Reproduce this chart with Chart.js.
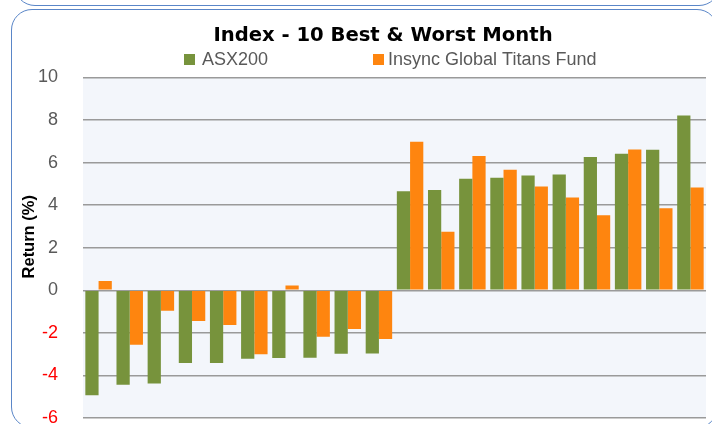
<!DOCTYPE html>
<html>
<head>
<meta charset="utf-8">
<script src="https://cdn.jsdelivr.net/npm/chart.js@4"></script>
<style>
html,body{margin:0;padding:0;background:#fff;overflow:hidden;width:712px;height:424px;}
#wrap{position:relative;width:712px;height:424px;overflow:hidden;}
.frame{position:absolute;border:1.5px solid #5a86c8;border-radius:21px;box-sizing:border-box;}
#f1{left:14px;top:-40px;width:706px;height:46px;}
#f2{left:11px;top:9px;width:707px;height:419px;}
canvas{position:absolute;left:0;top:0;}
</style>
</head>
<body>
<div id="wrap">
  <div class="frame" id="f1"></div>
  <div class="frame" id="f2"></div>
  <canvas id="c" width="712" height="424"></canvas>
</div>
<script>
// Categories: 10 worst and 10 best ASX200 months (axis labels are cut off in the source)
const categories = ['Worst 1','Worst 2','Worst 3','Worst 4','Worst 5','Worst 6','Worst 7','Worst 8','Worst 9','Worst 10',
                    'Best 10','Best 9','Best 8','Best 7','Best 6','Best 5','Best 4','Best 3','Best 2','Best 1'];
const asx200 = [-4.93, -4.44, -4.38, -3.42, -3.42, -3.22, -3.18, -3.17, -2.98, -2.97,
                 4.66,  4.72,  5.24,  5.29,  5.40,  5.44,  6.26,  6.42,  6.61,  8.22];
const insync = [ 0.44, -2.56, -0.96, -1.44, -1.63, -3.01,  0.23, -2.18, -1.82, -2.29,
                 6.98,  2.75,  6.31,  5.67,  4.88,  4.36,  3.53,  6.62,  3.86,  4.83];
const seriesNames = ['ASX200', 'Insync Global Titans Fund'];
const yTicks = [-6, -4, -2, 0, 2, 4, 6, 8, 10];
const chartTitle = 'Index - 10 Best & Worst Month';
const axisTitle = 'Return (%)';

const colors = ['#77933C', '#FE850F'];

const plotBg = {
  id: 'plotBg',
  beforeDraw(chart) {
    const {ctx, chartArea: a} = chart;
    ctx.save();
    ctx.fillStyle = '#f3f6fb';
    ctx.fillRect(a.left, a.top, a.right - a.left, a.bottom - a.top);
    ctx.restore();
  }
};

const shiftTitles = {
  id: 'shiftTitles',
  afterLayout(chart) {
    if (chart.titleBlock) { chart.titleBlock.left += 25; chart.titleBlock.right += 25; }
    const y = chart.scales.y;
    if (y && !y._titleShifted) {
      const orig = y.drawTitle.bind(y);
      y.drawTitle = function (area) {
        this.ctx.save();
        this.ctx.translate(0, -11);
        orig(area);
        this.ctx.restore();
      };
      y._titleShifted = true;
    }
  }
};

const customLegend = {
  id: 'customLegend',
  afterDraw(chart) {
    const ctx = chart.ctx;
    const xs = [184, 373];
    const yc = 59.5;
    const box = 11;
    ctx.save();
    ctx.font = '18px "Liberation Sans"';
    ctx.textBaseline = 'middle';
    ctx.textAlign = 'left';
    chart.data.datasets.forEach((ds, i) => {
      ctx.fillStyle = ds.backgroundColor;
      ctx.fillRect(xs[i], yc - box / 2, box, box);
      ctx.fillStyle = '#595959';
      ctx.fillText(ds.label, xs[i] + (i === 0 ? 18 : 15), yc + 1);
    });
    ctx.restore();
  }
};

new Chart(document.getElementById('c'), {
  type: 'bar',
  data: {
    labels: categories,
    datasets: [
      { label: seriesNames[0], data: asx200, backgroundColor: colors[0], borderWidth: 0 },
      { label: seriesNames[1], data: insync, backgroundColor: colors[1], borderWidth: 0 }
    ]
  },
  options: {
    responsive: false,
    animation: false,
    events: [],
    layout: { padding: { left: 10, right: 6, top: 14, bottom: 6 } },
    datasets: { bar: { categoryPercentage: 0.85, barPercentage: 1.0 } },
    plugins: {
      legend: { display: false },
      tooltip: { enabled: false },
      title: {
        display: true,
        text: chartTitle,
        color: '#000',
        font: { family: 'DejaVu Sans', weight: 'bold', size: 19.6, lineHeight: 1.2 },
        padding: { top: 10, bottom: 30 }
      }
    },
    scales: {
      x: { display: false },
      y: {
        min: yTicks[0],
        max: yTicks[yTicks.length - 1],
        afterBuildTicks(scale) { scale.ticks = yTicks.map(v => ({ value: v })); },
        ticks: {
          color: c => (c.tick && c.tick.value < 0) ? '#ff0000' : '#595959',
          font: { family: 'Liberation Sans', size: 18 },
          padding: 25
        },
        grid: { color: '#9a9a9a', lineWidth: 1.6, drawTicks: false },
        border: { display: false },
        title: {
          display: true,
          text: axisTitle,
          color: '#000',
          font: { family: 'Liberation Sans', weight: 'bold', size: 16.5, lineHeight: 1.2 },
          padding: { top: 10, bottom: 0 }
        },
        afterFit(scale) { scale.width = 73; scale.paddingTop = 0; scale.paddingBottom = 0; }
      }
    }
  },
  plugins: [plotBg, shiftTitles, customLegend]
});
</script>
</body>
</html>
